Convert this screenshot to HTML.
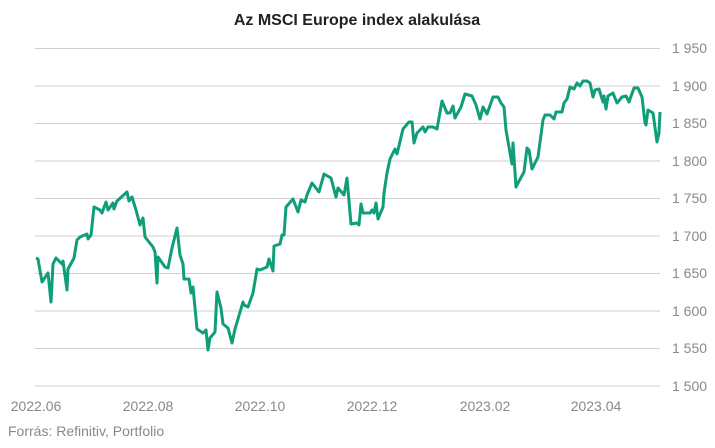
<!DOCTYPE html>
<html><head><meta charset="utf-8"><style>
body{margin:0;background:#fff;width:715px;height:443px;overflow:hidden;font-family:"Liberation Sans",sans-serif}
</style></head><body>
<svg width="715" height="443" xmlns="http://www.w3.org/2000/svg" font-family="Liberation Sans, sans-serif">
<text x="357" y="25" text-anchor="middle" font-size="16" font-weight="bold" fill="#222">Az MSCI Europe index alakulása</text>
<g stroke="#cfcfcf" stroke-width="1">
<line x1="35" x2="660" y1="48.5" y2="48.5"/>
<line x1="35" x2="660" y1="86" y2="86"/>
<line x1="35" x2="660" y1="123.5" y2="123.5"/>
<line x1="35" x2="660" y1="161" y2="161"/>
<line x1="35" x2="660" y1="198.5" y2="198.5"/>
<line x1="35" x2="660" y1="236" y2="236"/>
<line x1="35" x2="660" y1="273.5" y2="273.5"/>
<line x1="35" x2="660" y1="311" y2="311"/>
<line x1="35" x2="660" y1="348.5" y2="348.5"/>
<line x1="35" x2="660" y1="386" y2="386"/>
</g>
<g font-size="14" fill="#888">
<text x="672" y="53">1 950</text>
<text x="672" y="91">1 900</text>
<text x="672" y="128">1 850</text>
<text x="672" y="166">1 800</text>
<text x="672" y="203">1 750</text>
<text x="672" y="241">1 700</text>
<text x="672" y="278">1 650</text>
<text x="672" y="316">1 600</text>
<text x="672" y="353">1 550</text>
<text x="672" y="391">1 500</text>
</g>
<g font-size="14" fill="#888" text-anchor="middle">
<text x="36" y="411">2022.06</text>
<text x="148" y="411">2022.08</text>
<text x="260" y="411">2022.10</text>
<text x="372" y="411">2022.12</text>
<text x="485" y="411">2023.02</text>
<text x="596" y="411">2023.04</text>
</g>
<text x="8" y="436" font-size="14" fill="#888">Forrás: Refinitiv, Portfolio</text>
<polyline fill="none" stroke="#0f9e78" stroke-width="3" stroke-linejoin="round" points="36,258 38,259 42,282 48,273 51,302 53,264 56,258 62,264 63,261 67,290 68,269 74,258 77,240 80,237 87,234 88,239 91,235 94,207 100,210 102,213 106,202 108,210 113,203 114,209 117,201 127,192 129,201 132,197 136,210 140,225 143,218 145,237 153,247 155,252 157,283 158,257 165,267 168,268 172,248 177,228 180,255 183,264 184,279 189,279 191,293 193,287 197,329 203,333 206,330 208,350 210,338 215,332 217,292 221,308 223,324 228,328 232,343 235,329 243,302 244,305 248,307 253,293 257,269 260,270 267,267 269,259 273,271 274,246 280,244 282,235 284,235 286,207 293,199 298,212 301,200 305,202 307,195 312,183 319,192 324,174 331,178 336,197 338,188 344,195 347,178 351,224 357,223 359,225 361,204 363,213 370,213 372,210 374,213 376,203 378,219 383,207 384,193 387,173 390,159 395,149 397,154 403,129 409,122 412,122 414,143 417,133 423,127 425,132 428,127 433,127 437,129 442,101 447,113 450,113 453,106 455,118 461,107 465,94 472,96 476,105 480,119 483,107 487,114 493,97 498,97 501,103 504,107 506,130 512,164 513,143 516,187 518,183 524,172 527,148 529,150 532,169 538,157 543,120 545,115 550,115 554,119 556,112 562,112 564,103 567,99 570,87 574,89 577,83 580,86 583,81 587,81 590,83 593,97 595,90 599,89 603,102 604,96 606,109 608,96 613,93 617,103 622,97 626,96 629,102 634,88 638,88 642,97 645,123 646,125 648,110 653,113 657,142 659,133 660,112"/>
</svg>
</body></html>
